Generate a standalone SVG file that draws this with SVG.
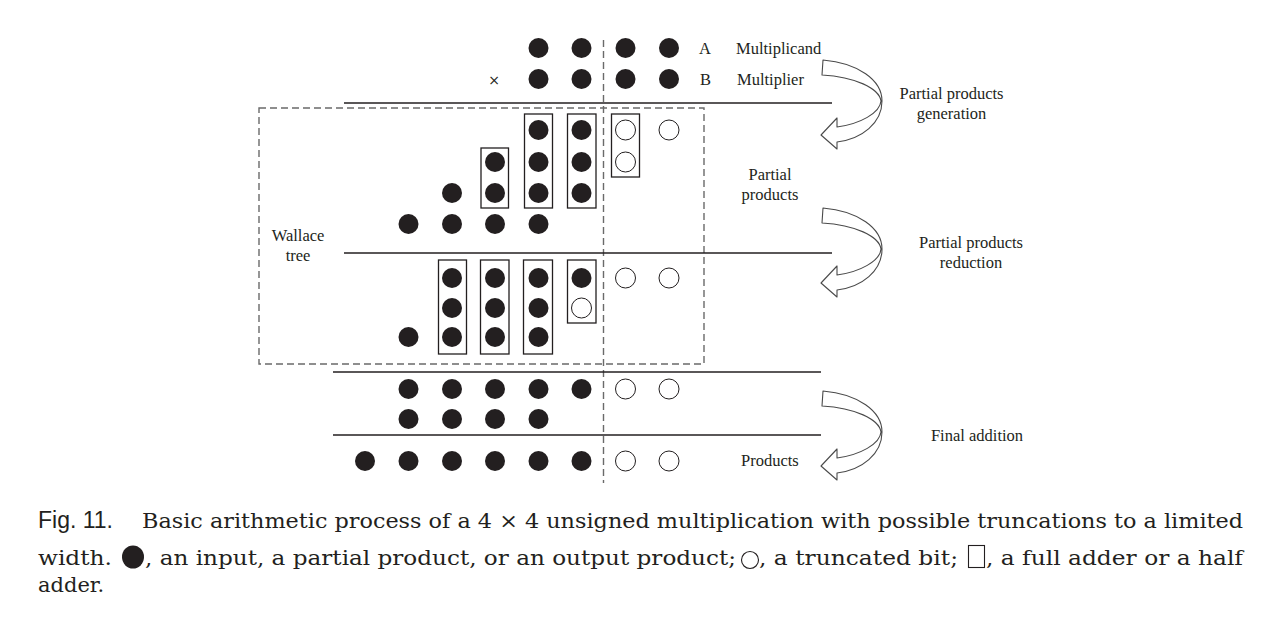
<svg xmlns="http://www.w3.org/2000/svg" width="1268" height="621" viewBox="0 0 1268 621">
<style>
.f{fill:#231f20}
.o{fill:#fff;stroke:#231f20;stroke-width:1}
.bx{fill:none;stroke:#231f20;stroke-width:1.3}
.ln{stroke:#231f20;stroke-width:1.3;fill:none}
.dash{stroke:#6a6a6a;stroke-width:1.4;fill:none;stroke-dasharray:7 4}
.t{font-family:"Liberation Serif","Times New Roman",serif;font-size:16.5px;fill:#231f20}
.c{font-family:"DejaVu Serif","Liberation Serif",serif;font-size:21px;fill:#231f20}
.arr{fill:#fff;stroke:#4a4a4a;stroke-width:1.1;stroke-linejoin:round}
</style>
<defs>
<path id="carrow" class="arr" d="M823,60 C858,63 882,80 882,101 C882,123 862,139 837,142 L837,149 L821,135 L837,118 L837,127 C860,124 880,113 881,101 C879,88 855,77 822,75 Z"/>
</defs>
<rect width="1268" height="621" fill="#fff"/>

<g id="guides">
<line class="dash" x1="603.5" y1="40" x2="603.5" y2="483"/>
</g>

<g id="wallace-tree">
<rect class="dash" x="259" y="108" width="445" height="256"/>
<text class="t" x="298" y="241" text-anchor="middle">Wallace</text>
<text class="t" x="298" y="261" text-anchor="middle">tree</text>
</g>

<g id="rules">
<line class="ln" x1="344" y1="103" x2="832" y2="103"/>
<line class="ln" x1="344" y1="253" x2="832" y2="253"/>
<line class="ln" x1="333" y1="372" x2="821" y2="372"/>
<line class="ln" x1="333" y1="435" x2="821" y2="435"/>
</g>

<g id="multiplicand">
<circle class="f" cx="538.5" cy="48" r="10"/><circle class="f" cx="581.5" cy="48" r="10"/>
<circle class="f" cx="625.5" cy="48" r="10"/><circle class="f" cx="669" cy="48" r="10"/>
<text class="t" x="699" y="54">A</text>
<text class="t" x="736" y="54">Multiplicand</text>
</g>

<g id="multiplier">
<text x="494" y="85" text-anchor="middle" style="font-family:'DejaVu Sans',sans-serif;font-size:14px;fill:#231f20">×</text>
<circle class="f" cx="538.5" cy="79" r="10"/><circle class="f" cx="581.5" cy="79" r="10"/>
<circle class="f" cx="625.5" cy="79" r="10"/><circle class="f" cx="669" cy="79" r="10"/>
<text class="t" x="700" y="85">B</text>
<text class="t" x="737" y="85">Multiplier</text>
</g>

<g id="partial-products">
<circle class="f" cx="538.5" cy="130" r="10"/><circle class="f" cx="581.5" cy="130" r="10"/>
<circle class="o" cx="625.5" cy="130" r="10"/><circle class="o" cx="669" cy="130" r="10"/>
<circle class="f" cx="495" cy="162" r="10"/><circle class="f" cx="538.5" cy="162" r="10"/>
<circle class="f" cx="581.5" cy="162" r="10"/><circle class="o" cx="625.5" cy="162" r="10"/>
<circle class="f" cx="452" cy="193" r="10"/><circle class="f" cx="495" cy="193" r="10"/>
<circle class="f" cx="538.5" cy="193" r="10"/><circle class="f" cx="581.5" cy="193" r="10"/>
<circle class="f" cx="408.5" cy="224" r="10"/><circle class="f" cx="452" cy="224" r="10"/>
<circle class="f" cx="495" cy="224" r="10"/><circle class="f" cx="538.5" cy="224" r="10"/>
<rect class="bx" x="481" y="148" width="27.5" height="60"/>
<rect class="bx" x="524.5" y="114" width="28" height="94"/>
<rect class="bx" x="567.5" y="114" width="28.5" height="94"/>
<rect class="bx" x="611.5" y="114" width="28" height="63"/>
<text class="t" x="770" y="180" text-anchor="middle">Partial</text>
<text class="t" x="770" y="200" text-anchor="middle">products</text>
</g>

<g id="reduction">
<circle class="f" cx="408.5" cy="337" r="10"/>
<circle class="f" cx="452" cy="278" r="10"/><circle class="f" cx="452" cy="308" r="10"/><circle class="f" cx="452" cy="337" r="10"/>
<circle class="f" cx="495" cy="278" r="10"/><circle class="f" cx="495" cy="308" r="10"/><circle class="f" cx="495" cy="337" r="10"/>
<circle class="f" cx="538.5" cy="278" r="10"/><circle class="f" cx="538.5" cy="308" r="10"/><circle class="f" cx="538.5" cy="337" r="10"/>
<circle class="f" cx="581.5" cy="278" r="10"/><circle class="o" cx="581.5" cy="308" r="10"/>
<circle class="o" cx="625.5" cy="278" r="10"/><circle class="o" cx="669" cy="278" r="10"/>
<rect class="bx" x="438.5" y="260" width="28" height="94"/>
<rect class="bx" x="480.5" y="260" width="28.5" height="94"/>
<rect class="bx" x="523.5" y="260" width="29" height="94"/>
<rect class="bx" x="567.5" y="260" width="28.5" height="63"/>
</g>

<g id="final-addition">
<circle class="f" cx="408.5" cy="389" r="10"/><circle class="f" cx="452" cy="389" r="10"/>
<circle class="f" cx="495" cy="389" r="10"/><circle class="f" cx="538.5" cy="389" r="10"/>
<circle class="f" cx="581.5" cy="389" r="10"/><circle class="o" cx="625.5" cy="389" r="10"/>
<circle class="o" cx="669" cy="389" r="10"/>
<circle class="f" cx="408.5" cy="419" r="10"/><circle class="f" cx="452" cy="419" r="10"/>
<circle class="f" cx="495" cy="419" r="10"/><circle class="f" cx="538.5" cy="419" r="10"/>
</g>

<g id="products">
<circle class="f" cx="365" cy="461" r="10"/><circle class="f" cx="408.5" cy="461" r="10"/>
<circle class="f" cx="452" cy="461" r="10"/><circle class="f" cx="495" cy="461" r="10"/>
<circle class="f" cx="538.5" cy="461" r="10"/><circle class="f" cx="581.5" cy="461" r="10"/>
<circle class="o" cx="625.5" cy="461" r="10"/><circle class="o" cx="669" cy="461" r="10"/>
<text class="t" x="741" y="466">Products</text>
</g>

<g id="connectors">
<use href="#carrow"/>
<use href="#carrow" transform="translate(0,148)"/>
<use href="#carrow" transform="translate(0,331)"/>
</g>

<g id="step-labels">
<text class="t" x="951.5" y="99" text-anchor="middle">Partial products</text>
<text class="t" x="951.5" y="119" text-anchor="middle">generation</text>
<text class="t" x="971" y="248" text-anchor="middle">Partial products</text>
<text class="t" x="971" y="268" text-anchor="middle">reduction</text>
<text class="t" x="977" y="441" text-anchor="middle">Final addition</text>
</g>

<g id="caption">
<text x="38" y="528" style="font-family:'Liberation Sans',Arial,sans-serif;font-size:23px;fill:#231f20">Fig. 11.</text>
<text class="c" x="142" y="528" textLength="1101" lengthAdjust="spacingAndGlyphs">Basic arithmetic process of a 4 × 4 unsigned multiplication with possible truncations to a limited</text>
<text class="c" x="38" y="565" textLength="74" lengthAdjust="spacingAndGlyphs">width.</text>
<ellipse cx="133" cy="557" rx="11" ry="11.5" fill="#231f20"/>
<text class="c" x="145" y="565" textLength="591" lengthAdjust="spacingAndGlyphs">, an input, a partial product, or an output product;</text>
<circle cx="750" cy="560" r="8.5" fill="none" stroke="#231f20" stroke-width="1.1"/>
<text class="c" x="759" y="565" textLength="199" lengthAdjust="spacingAndGlyphs">, a truncated bit;</text>
<rect x="968.5" y="545.5" width="16" height="22" fill="none" stroke="#231f20" stroke-width="1.1"/>
<text class="c" x="986" y="565" textLength="257" lengthAdjust="spacingAndGlyphs">, a full adder or a half</text>
<text class="c" x="38" y="592">adder.</text>
</g>
</svg>
